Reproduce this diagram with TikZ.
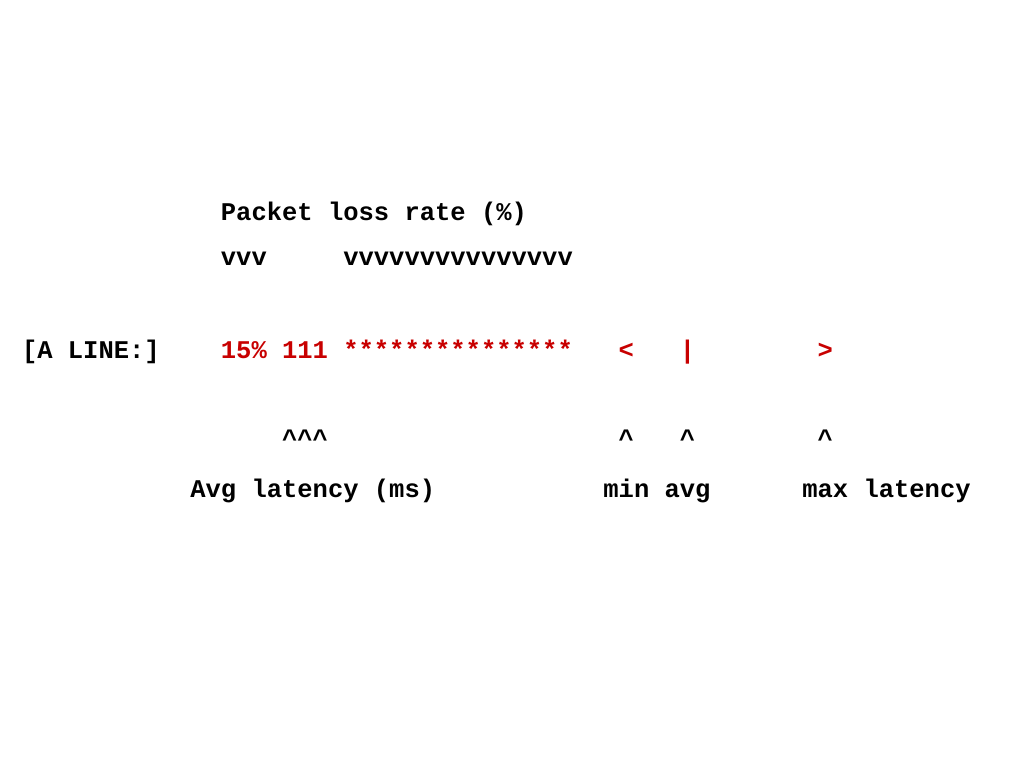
\documentclass[tikz,border=0pt]{standalone}
\usepackage{fontspec}
\setmonofont{Liberation Mono}
\definecolor{ired}{RGB}{200,0,0}
\newcommand{\cw}{15.3}
\tikzset{
  tt/.style={inner sep=0pt, outer sep=0pt, anchor=base west, font=\ttfamily\bfseries\fontsize{25.5pt}{25.5pt}\selectfont, text=black},
  hl/.style={tt, text=ired}
}
\begin{document}
\begin{tikzpicture}[x=1pt,y=-1pt]
\useasboundingbox[fill=white] (0,0) rectangle (1024,768);
% row 1
\node[tt] (title) at ({22+13*\cw},220) {Packet loss rate (\%)};
% row 2
\node[tt] (v1) at ({22+13*\cw},265) {vvv};
\node[tt] (v2) at ({22+21*\cw},265) {vvvvvvvvvvvvvvv};
% row 3
\node[tt] (lbl) at ({22+0*\cw},358) {[A LINE:]};
\node[hl] (loss) at ({22+13*\cw},358) {15\% 111};
\node[hl] (stars) at ({22+21*\cw},358) {***************};
\node[hl] (lt) at ({22+39*\cw},358) {<};
\node[hl] (bar) at ({22+43*\cw},358) {|};
\node[hl] (gt) at ({22+52*\cw},358) {>};
% row 4
\node[tt] (c1) at ({22+17*\cw},447) {\textasciicircum\textasciicircum\textasciicircum};
\node[tt] (c2) at ({22+39*\cw},447) {\textasciicircum};
\node[tt] (c3) at ({22+43*\cw},447) {\textasciicircum};
\node[tt] (c4) at ({22+52*\cw},447) {\textasciicircum};
% row 5
\node[tt] (avglat) at ({22+11*\cw},497) {Avg latency (ms)};
\node[tt] (minavg) at ({22+38*\cw},497) {min avg};
\node[tt] (maxlat) at ({22+51*\cw},497) {max latency};
\end{tikzpicture}
\end{document}
